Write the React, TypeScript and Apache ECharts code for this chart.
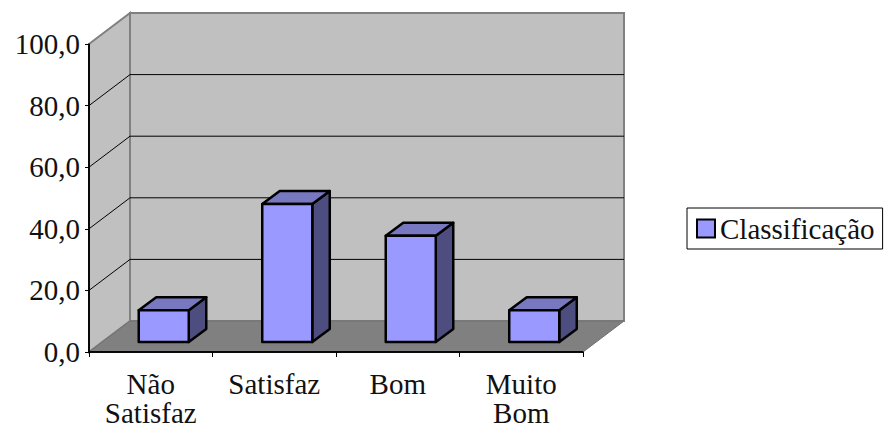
import React, { useEffect, useRef } from "react";
import * as echarts from "echarts";

const categories = ["Não\nSatisfaz", "Satisfaz", "Bom", "Muito\nBom"];
const classificacao = [10.3, 44.8, 34.5, 10.3];
const gridValues = [20, 40, 60, 80];
const seriesName = "Classificação";

const FONT = "Liberation Serif";
const TEXT_COLOR = "#111111";
// depth of the 3D box (pixels) and the bars' front/back depth offsets
const DEPTH = [41, -31];
const BAR_FRONT = [13, -10];
const BAR_BACK = [30.5, -23];

export default function App() {
  const ref = useRef<HTMLDivElement>(null);

  useEffect(() => {
    if (!ref.current) return;
    const chart = echarts.init(ref.current, null, { renderer: "svg" });

    const wallsRender = (params: any, api: any) => {
      const cs = params.coordSys;
      const x0 = cs.x;
      const x1 = cs.x + cs.width;
      const yb = api.coord([0, 0])[1];
      const yt = api.coord([0, 100])[1];
      const [dx, dy] = DEPTH;
      const children: any[] = [
        {
          type: "polygon",
          shape: { points: [[x0, yt], [x0 + dx, yt + dy], [x0 + dx, yb + dy], [x0, yb]] },
          style: { fill: "#C0C0C0", stroke: "#808080", lineWidth: 2 },
        },
        {
          type: "rect",
          shape: { x: x0 + dx, y: yt + dy, width: x1 - x0, height: yb - yt },
          style: { fill: "#C0C0C0", stroke: "#808080", lineWidth: 2 },
        },
        {
          type: "polygon",
          shape: { points: [[x0, yb], [x1, yb], [x1 + dx, yb + dy], [x0 + dx, yb + dy]] },
          style: { fill: "#808080", stroke: "#707070", lineWidth: 1 },
        },
      ];
      gridValues.forEach((g) => {
        const y = api.coord([0, g])[1];
        children.push({
          type: "polyline",
          shape: { points: [[x0, y], [x0 + dx, y + dy], [x1 + dx, y + dy]] },
          style: { fill: "none", stroke: "#000", lineWidth: 1 },
        });
      });
      // front edges over the box
      children.push({
        type: "polyline",
        shape: { points: [[x0, yt], [x0, yb], [x1, yb]] },
        style: { fill: "none", stroke: "#000", lineWidth: 1.5 },
      });
      return { type: "group", children };
    };

    const barRender = (params: any, api: any) => {
      const i = api.value(0);
      const v = api.value(1);
      const base = api.coord([i, 0]);
      const top = api.coord([i, v]);
      const w = api.size([1, 0])[0] * 0.405;
      const xl = base[0] + BAR_FRONT[0] - w / 2;
      const xr = xl + w;
      const yb = base[1] + BAR_FRONT[1];
      const ytop = top[1] + BAR_FRONT[1];
      const ddx = BAR_BACK[0] - BAR_FRONT[0];
      const ddy = BAR_BACK[1] - BAR_FRONT[1];
      const line = { stroke: "#000", lineWidth: 2.5, lineJoin: "round" };
      return {
        type: "group",
        children: [
          {
            type: "polygon",
            shape: { points: [[xr, ytop], [xr + ddx, ytop + ddy], [xr + ddx, yb + ddy], [xr, yb]] },
            style: { fill: "#4D4D80", ...line },
          },
          {
            type: "polygon",
            shape: { points: [[xl, ytop], [xl + ddx, ytop + ddy], [xr + ddx, ytop + ddy], [xr, ytop]] },
            style: { fill: "#7878C0", ...line },
          },
          {
            type: "rect",
            shape: { x: xl, y: ytop, width: w, height: yb - ytop },
            style: { fill: "#9999FF", ...line },
          },
        ],
      };
    };

    chart.setOption({
      animation: false,
      grid: { left: 89, right: 305, top: 44, bottom: 82 },
      legend: {
        data: [
          {
            name: seriesName,
            icon: "rect",
            itemStyle: { color: "#9999FF", borderColor: "#000", borderWidth: 2 },
          },
        ],
        left: 687,
        top: 208,
        itemWidth: 18,
        itemHeight: 18,
        padding: [6, 8, 6, 9],
        borderColor: "#000",
        borderWidth: 1,
        selectedMode: false,
        textStyle: { fontFamily: FONT, fontSize: 29, color: TEXT_COLOR },
      },
      xAxis: {
        type: "category",
        data: categories,
        z: 3,
        axisLine: { lineStyle: { color: "#000", width: 1.5 } },
        axisTick: { show: true, interval: 0, length: 5, lineStyle: { color: "#000" } },
        axisLabel: {
          interval: 0,
          margin: 17,
          textStyle: { fontFamily: FONT, fontSize: 29, color: TEXT_COLOR },
        },
        splitLine: { show: false },
      },
      yAxis: {
        type: "value",
        min: 0,
        max: 100,
        interval: 20,
        z: 3,
        axisLine: { show: true, lineStyle: { color: "#000", width: 1.5 } },
        axisTick: { show: true, length: 4, lineStyle: { color: "#000" } },
        axisLabel: {
          margin: 9,
          textStyle: { fontFamily: FONT, fontSize: 29, color: TEXT_COLOR },
          formatter: (v: number) => v.toFixed(1).replace(".", ","),
        },
        splitLine: { show: false },
      },
      series: [
        {
          type: "custom",
          name: "walls",
          z: 1,
          silent: true,
          renderItem: wallsRender,
          data: [[0, 0]],
          encode: { x: 0, y: 1 },
        },
        {
          type: "custom",
          name: seriesName,
          z: 5,
          itemStyle: { color: "#9999FF" },
          renderItem: barRender,
          data: classificacao.map((v, i) => [i, v]),
          encode: { x: 0, y: 1 },
        },
      ],
    });

    return () => chart.dispose();
  }, []);

  return (
    <div
      ref={ref}
      style={{ position: "fixed", left: 0, top: 0, width: 888, height: 434, background: "#fff" }}
    />
  );
}
